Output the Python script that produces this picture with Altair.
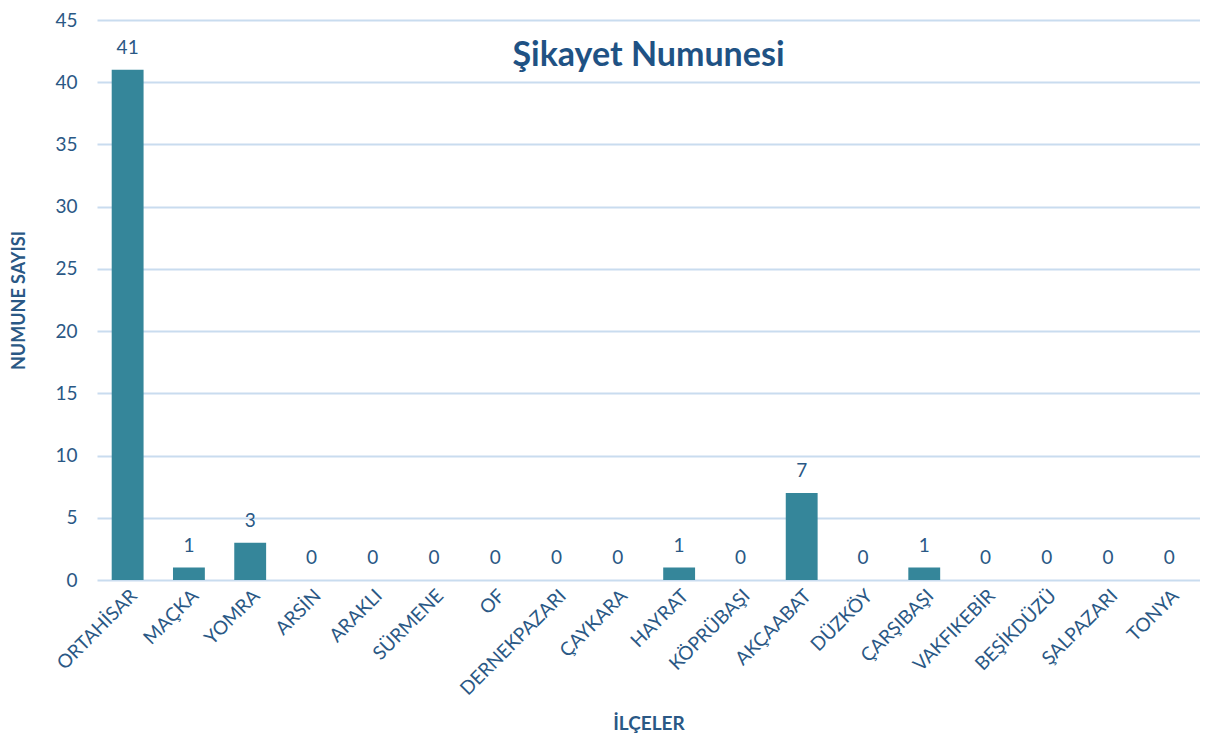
import altair as alt
import pandas as pd

ilceler = ["ORTAHİSAR", "MAÇKA", "YOMRA", "ARSİN", "ARAKLI", "SÜRMENE", "OF",
           "DERNEKPAZARI", "ÇAYKARA", "HAYRAT", "KÖPRÜBAŞI", "AKÇAABAT", "DÜZKÖY",
           "ÇARŞIBAŞI", "VAKFIKEBİR", "BEŞİKDÜZÜ", "ŞALPAZARI", "TONYA"]
numune = [41, 1, 3, 0, 0, 0, 0, 0, 0, 1, 0, 7, 0, 1, 0, 0, 0, 0]
y_ticks = [0, 5, 10, 15, 20, 25, 30, 35, 40, 45]

df = pd.DataFrame({"ilce": ilceler, "sayi": numune})

FONT = "Lato"
TXT = "#2A5885"
BAR = "#35869A"
GRID = "#C9DCEF"

base = alt.Chart(df).encode(
    x=alt.X("ilce:N", sort=ilceler, title="İLÇELER",
            scale=alt.Scale(paddingInner=0.48, paddingOuter=0.24),
            axis=alt.Axis(labelAngle=-45, labelAlign="right", labelBaseline="top",
                          labelFontSize=19, labelColor=TXT, labelFont=FONT,
                          labelPadding=6, ticks=False, domain=False, grid=False,
                          titleFontSize=19, titleFont=FONT, titleFontWeight="bold",
                          titleColor=TXT, titlePadding=16)),
    y=alt.Y("sayi:Q", title="NUMUNE SAYISI",
            scale=alt.Scale(domain=[0, 45], nice=False),
            axis=alt.Axis(values=y_ticks, labelFontSize=19, labelColor=TXT,
                          labelFont=FONT, labelPadding=20, ticks=False, domain=False,
                          gridColor=GRID, gridWidth=2,
                          titleFontSize=18, titleFont=FONT, titleFontWeight="bold",
                          titleColor=TXT, titlePadding=26)),
)

bars = base.mark_bar(color=BAR)
labels = base.mark_text(baseline="bottom", dy=-12, fontSize=19, font=FONT,
                        color=TXT).encode(text="sayi:Q")

chart = (bars + labels).properties(
    width=1103, height=560,
    title=alt.TitleParams("Şikayet Numunesi", fontSize=34, font=FONT,
                          fontWeight="bold", color="#1F5284", anchor="middle",
                          dy=66),
    autosize=alt.AutoSizeParams(type="none"),
    padding={"left": 89, "top": 12, "right": 0, "bottom": 160},
).configure_view(stroke=None)

chart.save("out.html", embed_options={"renderer": "svg", "actions": False})
